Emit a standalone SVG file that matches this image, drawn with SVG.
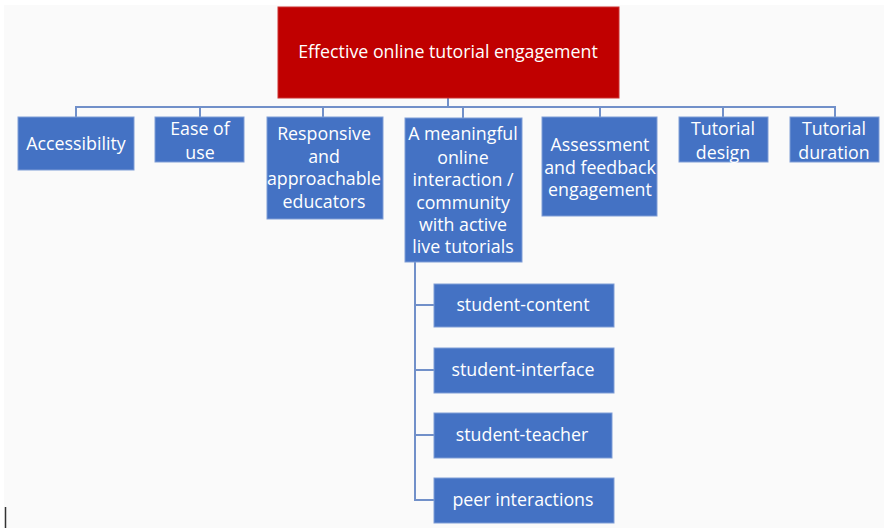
<svg xmlns="http://www.w3.org/2000/svg" width="884" height="528" viewBox="0 0 884 528">
  <defs>
    <style>
      .bg { fill: #fafafa; }
      .root rect { fill: #c00000; stroke: #cc3030; stroke-width: 1; }
      .node rect { fill: #4472c4; stroke: #7f9dd6; stroke-width: 1; }
      text { font-family: "Open Sans", "Noto Sans", "DejaVu Sans", sans-serif; font-size: 17.8px; fill: #ffffff; text-anchor: middle; dominant-baseline: central; }
      .links path { fill: none; stroke: #7190c9; stroke-width: 2; }
    </style>
  </defs>

  <rect width="884" height="528" fill="#ffffff"/>
  <rect class="bg" x="4" y="5" width="880" height="523"/>
  <line x1="5.5" y1="507" x2="5.5" y2="528" stroke="#333333" stroke-width="1.5"/>

  <!-- connectors -->
  <g class="links">
    <path d="M448 98 V107"/>
    <path d="M76 117 V107 H835 V117"/>
    <path d="M200 107 V117"/>
    <path d="M323 107 V117"/>
    <path d="M463 107 V118"/>
    <path d="M600 107 V117"/>
    <path d="M723 107 V117"/>
    <path d="M415 262 V500 H434"/>
    <path d="M415 305 H434"/>
    <path d="M415 370 H434"/>
    <path d="M415 435 H434"/>
  </g>

  <!-- top level -->
  <g id="root" class="root">
    <rect x="278" y="7" width="341" height="91"/>
    <text x="448" y="51">Effective online tutorial engagement</text>
  </g>

  <!-- factors -->
  <g id="accessibility" class="node">
    <rect x="18" y="117" width="116" height="53"/>
    <text x="76" y="143">Accessibility</text>
  </g>
  <g id="ease-of-use" class="node">
    <rect x="155" y="117" width="89" height="45"/>
    <text x="200" y="128">Ease of</text>
    <text x="200" y="152">use</text>
  </g>
  <g id="educators" class="node">
    <rect x="267" y="117" width="116" height="102"/>
    <text x="324" y="133">Responsive</text>
    <text x="324" y="156">and</text>
    <text x="324" y="178">approachable</text>
    <text x="324" y="201">educators</text>
  </g>
  <g id="interaction" class="node">
    <rect x="405" y="118" width="117" height="144"/>
    <text x="463" y="133">A meaningful</text>
    <text x="463" y="157">online</text>
    <text x="463" y="179">interaction /</text>
    <text x="463" y="202">community</text>
    <text x="463" y="224">with active</text>
    <text x="463" y="246">live tutorials</text>
  </g>
  <g id="assessment" class="node">
    <rect x="542" y="117" width="115" height="99"/>
    <text x="600" y="144">Assessment</text>
    <text x="600" y="167">and feedback</text>
    <text x="600" y="189">engagement</text>
  </g>
  <g id="tutorial-design" class="node">
    <rect x="679" y="117" width="89" height="45"/>
    <text x="723" y="128">Tutorial</text>
    <text x="723" y="152">design</text>
  </g>
  <g id="tutorial-duration" class="node">
    <rect x="790" y="117" width="89" height="45"/>
    <text x="834" y="128">Tutorial</text>
    <text x="834" y="152">duration</text>
  </g>

  <!-- interaction types -->
  <g id="student-content" class="node">
    <rect x="434" y="284" width="180" height="43"/>
    <text x="523" y="304">student-content</text>
  </g>
  <g id="student-interface" class="node">
    <rect x="434" y="348" width="180" height="45"/>
    <text x="523" y="369">student-interface</text>
  </g>
  <g id="student-teacher" class="node">
    <rect x="434" y="413" width="178" height="45"/>
    <text x="522" y="434">student-teacher</text>
  </g>
  <g id="peer-interactions" class="node">
    <rect x="434" y="478" width="180" height="45"/>
    <text x="523" y="499">peer interactions</text>
  </g>
</svg>
